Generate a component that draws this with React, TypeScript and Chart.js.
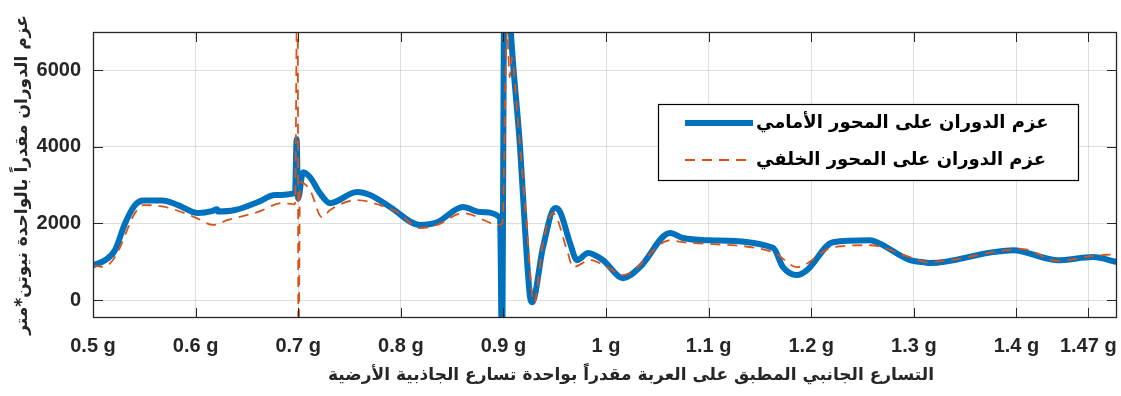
import React, { useEffect, useRef } from "react";
import { Chart, registerables } from "chart.js";

Chart.register(...registerables);

// ---- data (lateral acceleration in g, torque in N*m) ----
const X_TICKS = [0.5, 0.6, 0.7, 0.8, 0.9, 1.0, 1.1, 1.2, 1.3, 1.4, 1.47];
const Y_TICKS = [0, 2000, 4000, 6000];

const FRONT_LABEL = "عزم الدوران على المحور الأمامي";
const REAR_LABEL = "عزم الدوران على المحور الخلفي";
const X_TITLE = "التسارع الجانبي المطبق على العربة مقدراً بواحدة تسارع الجاذبية الأرضية";
const Y_TITLE = "عزم الدوران مقدراً بالواحدة نيوتن*متر";

const frontX = [0.5, 0.5117, 0.5214, 0.5312, 0.5409, 0.5487, 0.5673, 0.5828, 0.6023, 0.616, 0.6209, 0.6218, 0.6384, 0.6608, 0.6774, 0.6969, 0.6985, 0.6998, 0.7047, 0.7115, 0.7212, 0.731, 0.7573, 0.77, 0.7895, 0.8187, 0.8353, 0.8606, 0.8772, 0.8967, 0.8986, 0.901, 0.905, 0.9094, 0.9162, 0.9211, 0.9259, 0.9279, 0.9386, 0.9503, 0.9552, 0.9649, 0.9717, 0.9825, 0.9971, 1.0166, 1.0331, 1.0624, 1.075, 1.1014, 1.1628, 1.1725, 1.1862, 1.1959, 1.2212, 1.2573, 1.2641, 1.2963, 1.309, 1.3158, 1.3772, 1.3967, 1.4396, 1.4747, 1.498];
const frontY = [910, 1040, 1300, 2000, 2480, 2600, 2600, 2480, 2270, 2320, 2370, 2310, 2350, 2560, 2740, 2790, 4200, 2650, 3340, 3210, 2790, 2530, 2820, 2740, 2430, 1960, 2030, 2430, 2300, 2160, -1500, 8500, 7800, 6180, 3990, 1830, 80, -60, 1380, 2400, 2300, 1490, 1040, 1230, 1040, 570, 860, 1750, 1620, 1560, 1360, 860, 650, 780, 1510, 1560, 1510, 1040, 990, 965, 1250, 1300, 1040, 1120, 990];

const rearX = [0.5, 0.5097, 0.5214, 0.5409, 0.5487, 0.5702, 0.5994, 0.617, 0.6316, 0.6608, 0.6842, 0.6969, 0.6993, 0.7003, 0.7018, 0.7115, 0.7232, 0.731, 0.7573, 0.7797, 0.7963, 0.8187, 0.8353, 0.8606, 0.8967, 0.899, 0.9035, 0.9062, 0.908, 0.9143, 0.9221, 0.9298, 0.9386, 0.9484, 0.962, 0.9679, 0.9844, 1.001, 1.0166, 1.0624, 1.075, 1.1628, 1.1862, 1.2212, 1.2573, 1.2963, 1.3129, 1.4065, 1.4396, 1.4747, 1.498];
const rearY = [910, 860, 1120, 2270, 2480, 2430, 2160, 1960, 2090, 2300, 2530, 2500, 9000, -1500, 3080, 2870, 2160, 2350, 2610, 2480, 2300, 1880, 1960, 2270, 1960, 2000, 7000, 5820, 6340, 4620, 2160, -80, 1490, 2270, 1300, 860, 1040, 860, 650, 1560, 1510, 1250, 860, 1380, 1430, 1120, 990, 1330, 1020, 1150, 1200];

const X_MIN = 0.5;
const X_MAX = 1.498;
const Y_MIN = -470;
const Y_MAX = 7000;

const BLUE = "#0072BD";
const ORANGE = "#D95319";
const AXIS = "#262626";

const framePlugin = {
  id: "frame",
  afterDatasetsDraw(chart: any) {
    const { ctx, chartArea, scales } = chart;
    const { left, right, top, bottom } = chartArea;
    const xs = scales.x;
    const ys = scales.y;
    ctx.save();
    ctx.strokeStyle = AXIS;
    ctx.lineWidth = 1;
    ctx.beginPath();
    X_TICKS.forEach((v) => {
      const px = Math.round(xs.getPixelForValue(v)) + 0.5;
      ctx.moveTo(px, bottom);
      ctx.lineTo(px, bottom - 10);
      ctx.moveTo(px, top);
      ctx.lineTo(px, top + 10);
    });
    Y_TICKS.forEach((v) => {
      const py = Math.round(ys.getPixelForValue(v)) + 0.5;
      ctx.moveTo(left, py);
      ctx.lineTo(left + 10, py);
      ctx.moveTo(right, py);
      ctx.lineTo(right - 10, py);
    });
    ctx.stroke();
    ctx.lineWidth = 1.3;
    ctx.strokeRect(left + 0.5, top + 0.5, right - left - 1, bottom - top - 1);

    // legend
    const lx = 658, ly = 104, lw = 420, lh = 76;
    ctx.fillStyle = "#ffffff";
    ctx.fillRect(lx, ly, lw, lh);
    ctx.strokeStyle = "#000000";
    ctx.lineWidth = 1.2;
    ctx.strokeRect(lx + 0.5, ly + 0.5, lw, lh);

    const rows = [
      { label: FRONT_LABEL, color: BLUE, width: 6, dash: [] as number[], y: 123 },
      { label: REAR_LABEL, color: ORANGE, width: 1.8, dash: [10, 7], y: 160 },
    ];
    rows.forEach((r) => {
      ctx.beginPath();
      ctx.setLineDash(r.dash);
      ctx.strokeStyle = r.color;
      ctx.lineWidth = r.width;
      ctx.moveTo(685, r.y);
      ctx.lineTo(753, r.y);
      ctx.stroke();
      ctx.setLineDash([]);
      ctx.fillStyle = "#000000";
      ctx.font = "bold 18px 'DejaVu Sans'";
      (ctx as any).direction = "rtl";
      ctx.textAlign = "left";
      ctx.textBaseline = "middle";
      ctx.fillText(r.label, 756, r.y);
    });
    ctx.restore();
  },
  afterDraw(chart: any) {
    const { ctx } = chart;
    ctx.save();
    ctx.fillStyle = AXIS;
    ctx.font = "bold 17px 'DejaVu Sans'";
    (ctx as any).direction = "rtl";
    ctx.textAlign = "center";
    ctx.textBaseline = "middle";
    ctx.fillText(X_TITLE, 631, 376);
    ctx.restore();
  },
};

export default function App() {
  const ref = useRef<HTMLCanvasElement | null>(null);

  useEffect(() => {
    if (!ref.current) return;
    const front = frontX.map((x, i) => ({ x, y: frontY[i] }));
    const rear = rearX.map((x, i) => ({ x, y: rearY[i] }));

    const chart = new Chart(ref.current, {
      type: "line",
      data: {
        datasets: [
          {
            label: REAR_LABEL,
            data: rear,
            borderColor: ORANGE,
            borderWidth: 1.8,
            borderDash: [10, 7],
            pointRadius: 0,
            cubicInterpolationMode: "monotone",
            clip: 0,
            order: 0,
          } as any,
          {
            label: FRONT_LABEL,
            data: front,
            borderColor: BLUE,
            borderWidth: 6,
            pointRadius: 0,
            cubicInterpolationMode: "monotone",
            clip: 0,
            order: 1,
          } as any,
        ],
      },
      options: {
        animation: false,
        responsive: false,
        parsing: false as any,
        layout: { padding: { top: 32, right: 4, left: 0, bottom: 0 } },
        plugins: {
          legend: { display: false },
          tooltip: { enabled: false },
        },
        scales: {
          x: {
            type: "linear",
            min: X_MIN,
            max: X_MAX,
            afterBuildTicks: (s: any) => {
              s.ticks = X_TICKS.map((v) => ({ value: v }));
            },
            afterFit: (s: any) => {
              s.height = 78;
              s.paddingLeft = 0;
              s.paddingRight = 0;
            },
            ticks: {
              padding: 16,
              color: AXIS,
              font: { family: "'Liberation Sans', Arial", size: 20, weight: "bold" },
              maxRotation: 0,
              autoSkip: false,
              callback: (v: any) => `${Math.round(Number(v) * 100) / 100} g`,
            },
            grid: { color: "rgba(38,38,38,0.15)", drawTicks: false, lineWidth: 1 },
            border: { display: false },
            title: { display: false },
          },
          y: {
            type: "linear",
            min: Y_MIN,
            max: Y_MAX,
            afterBuildTicks: (s: any) => {
              s.ticks = Y_TICKS.map((v) => ({ value: v }));
            },
            afterFit: (s: any) => {
              s.width = 93;
              s.paddingTop = 0;
              s.paddingBottom = 0;
            },
            ticks: {
              padding: 12,
              color: AXIS,
              font: { family: "'Liberation Sans', Arial", size: 20, weight: "bold" },
              callback: (v: any) => `${v}`,
            },
            grid: { color: "rgba(38,38,38,0.15)", drawTicks: false, lineWidth: 1 },
            border: { display: false },
            title: {
              display: true,
              text: Y_TITLE,
              color: AXIS,
              font: { family: "'DejaVu Sans'", size: 17, weight: "bold" },
              padding: { top: 12, bottom: 0 },
            },
          },
        },
      },
      plugins: [framePlugin],
    });
    return () => chart.destroy();
  }, []);

  return (
    <div style={{ position: "absolute", left: 0, top: 0, width: 1121, height: 396, background: "#fff" }}>
      <canvas ref={ref} width={1121} height={396} />
    </div>
  );
}
